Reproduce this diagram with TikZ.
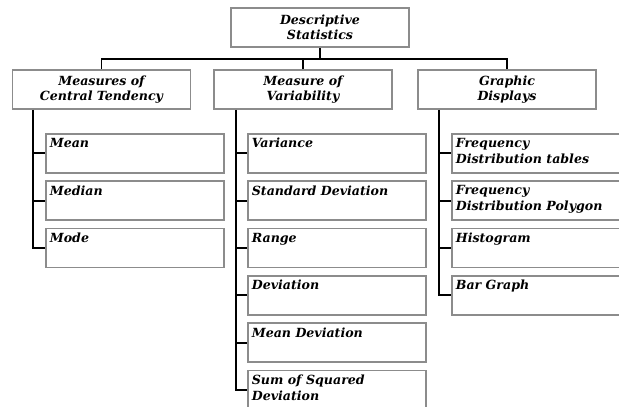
\documentclass[tikz,border=0pt]{standalone}
\usepackage{fontspec}
\setmainfont{DejaVu Serif}
\usetikzlibrary{calc}
\newcommand\leaftext[1]{\parbox[c][30pt][t]{170pt}{#1}}

\begin{document}
\begin{tikzpicture}[x=1pt,y=-1pt,
  box/.style={draw=gray!90,line width=1.7pt,minimum width=178pt,minimum height=39pt,
    inner sep=2pt,align=center,font=\fontsize{12.6}{15.5}\selectfont\bfseries\itshape},
  leaf/.style={draw=gray!90,line width=1.7pt,anchor=north west,inner xsep=4pt,inner ysep=4.5pt,
    font=\fontsize{12.6}{16}\selectfont\bfseries\itshape},
  link/.style={black,line width=1.9pt}]
\clip (0,0) rectangle (619,407);
\def\dy{47.3};
\def\ty{133};
% headings
\node[box] (ds) at (320,27.5) {Descriptive\\Statistics};
\node[box] (ct) at (101.5,89.5) {Measures of\\Central Tendency};
\node[box] (mv) at (303,89.5) {Measure of\\Variability};
\node[box] (gd) at (507,89.5) {Graphic\\Displays};
% central tendency
\node[leaf] (mean) at (45,{\ty}) {\leaftext{Mean}};
\node[leaf] (median) at (45,{\ty+\dy}) {\leaftext{Median}};
\node[leaf] (mode) at (45,{\ty+2*\dy}) {\leaftext{Mode}};
% variability
\node[leaf] (var) at (247,{\ty}) {\leaftext{Variance}};
\node[leaf] (sd) at (247,{\ty+\dy}) {\leaftext{Standard Deviation}};
\node[leaf] (range) at (247,{\ty+2*\dy}) {\leaftext{Range}};
\node[leaf] (dev) at (247,{\ty+3*\dy}) {\leaftext{Deviation}};
\node[leaf] (md) at (247,{\ty+4*\dy}) {\leaftext{Mean Deviation}};
\node[leaf] (ss) at (247,{\ty+5*\dy}) {\leaftext{Sum of Squared\\Deviation}};
% graphic displays
\node[leaf] (fdt) at (451,{\ty}) {\leaftext{Frequency\\Distribution tables}};
\node[leaf] (fdp) at (451,{\ty+\dy}) {\leaftext{Frequency\\Distribution Polygon}};
\node[leaf] (hist) at (451,{\ty+2*\dy}) {\leaftext{Histogram}};
\node[leaf] (bar) at (451,{\ty+3*\dy}) {\leaftext{Bar Graph}};
% tree lines
\draw[link] (ct.north) -- ++(0,-10) -| (ds.south);
\draw[link] (gd.north) -- ++(0,-10) -| (ds.south);
\draw[link] (mv.north) -- ++(0,-10);
\coordinate (t1) at ($(ct.south west)+(21,0)$);
\coordinate (t2) at ($(mv.south west)+(23,0)$);
\coordinate (t3) at ($(gd.south west)+(22,0)$);
\draw[link] (t1) |- (mode.west) (t1) |- (median.west) (t1) |- (mean.west);
\draw[link] (t2) |- (ss.west) (t2) |- (md.west) (t2) |- (dev.west)
  (t2) |- (range.west) (t2) |- (sd.west) (t2) |- (var.west);
\draw[link] (t3) |- (bar.west) (t3) |- (hist.west) (t3) |- (fdp.west) (t3) |- (fdt.west);
\end{tikzpicture}
\end{document}
